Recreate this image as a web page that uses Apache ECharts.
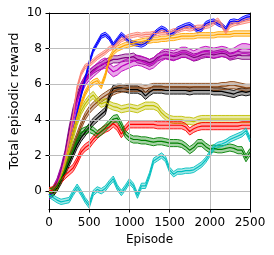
<!DOCTYPE html>
<html><head><meta charset="utf-8">
<script src="https://cdn.jsdelivr.net/npm/echarts@6/dist/echarts.min.js"></script>
<style>html,body{margin:0;padding:0;background:#fff}#c{width:274px;height:255px}</style>
</head><body><div id="c"></div>
<script>
// ---- data ----
const episodes = [0,50,100,150,200,250,300,350,400,450,500,550,600,650,700,750,800,850,900,950,1000,1050,1100,1150,1200,1250,1300,1350,1400,1450,1500,1550,1600,1650,1700,1750,1800,1850,1900,1950,2000,2050,2100,2150,2200,2250,2300,2350,2400,2450,2500];

const blue = [-0.2,-0.1,0.3,0.8,1.6,2.5,3.4,4.4,5.4,6.3, 7.2,7.9,8.3,8.7,8.8,8.6,8.2,8.5,8.8,8.6, 8.4,8.3,8.25,8.2,8.3,8.5,8.8,9.0,9.15,9.05, 8.8,8.9,9.1,9.2,9.3,9.35,9.2,9.0,9.1,9.4, 9.5,9.55,9.4,9.3,9.1,9.5,9.55,9.5,9.65,9.75, 9.8];
const salmon = [0.1,0.0,0.3,0.9,1.8,3.0,4.3,5.8,6.6,7.0, 7.1,7.3,7.5,7.65,7.8,8.0,8.1,8.3,8.5,8.6, 8.7,8.75,8.8,8.75,8.8,8.8,8.85,8.85,8.9,8.9, 8.9,9.0,9.0,9.1,9.15,9.1,9.15,9.2,9.2,9.25, 9.3,9.45,9.6,9.3,8.95,9.3,9.4,9.45,9.5,9.55, 9.6];
const orange = [-0.1,-0.1,0.2,0.8,1.6,2.5,3.4,4.2,4.9,5.5, 5.9,6.1,6.2,5.9,6.5,7.4,7.8,8.0,8.1,8.2, 8.25,8.3,8.35,8.4,8.45,8.45,8.5,8.5,8.55,8.55, 8.6,8.6,8.65,8.7,8.7,8.7,8.7,8.75,8.75,8.75, 8.75,8.75,8.8,8.8,8.8,8.8,8.85,8.85,8.85,8.85, 8.85];
const purple = [-0.2,0.0,0.5,1.2,2.1,3.4,4.5,5.3,5.9,6.3, 6.6,6.8,6.95,7.05,7.2,7.3,7.4,7.4,7.45,7.5, 7.5,7.55,7.4,7.35,7.3,7.2,7.3,7.5,7.6,7.65, 7.6,7.55,7.6,7.7,7.7,7.6,7.5,7.55,7.65,7.7, 7.7,7.65,7.7,7.75,7.7,7.55,7.6,7.65,7.6,7.6, 7.6];
const magenta = [-0.2,0.0,0.4,1.0,1.9,3.0,4.1,5.0,5.7,6.2, 6.5,6.7,6.9,7.1,7.2,6.9,6.7,6.8,7.0,7.1, 7.2,7.3,7.35,7.3,7.2,7.1,7.2,7.4,7.6,7.7, 7.65,7.6,7.7,7.8,7.8,7.7,7.6,7.7,7.8,7.85, 7.8,7.75,7.8,7.85,7.8,7.7,7.75,7.9,8.0,8.0, 7.95];
const black = [-0.1,-0.1,0.2,0.6,1.1,1.6,2.1,2.6,3.0,3.3, 3.6,3.9,4.1,4.3,4.5,5.3,5.75,5.8,5.8,5.75, 5.7,5.7,5.7,5.6,5.35,5.55,5.7,5.7,5.7,5.65, 5.65,5.65,5.65,5.65,5.65,5.6,5.65,5.65,5.65,5.65, 5.65,5.6,5.6,5.6,5.55,5.5,5.45,5.55,5.6,5.55, 5.6];
const brown = [-0.1,0.0,0.3,0.8,1.4,1.9,2.5,3.1,3.7,4.2, 4.55,4.8,5.0,5.2,5.35,5.5,5.6,5.7,5.75,5.8, 5.8,5.8,5.8,5.8,5.75,5.8,5.85,5.85,5.85,5.85, 5.85,5.85,5.85,5.85,5.85,5.85,5.85,5.85,5.85,5.85, 5.85,5.85,5.85,5.9,5.9,5.95,5.95,5.9,5.85,5.8, 5.8];
const olive = [-0.1,0.0,0.3,0.8,1.5,2.3,3.1,3.9,4.5,4.9, 5.2,5.4,5.1,4.9,5.0,4.85,4.75,4.7,4.6,4.65, 4.7,4.65,4.6,4.7,4.8,4.8,4.8,4.7,4.4,4.2, 4.05,4.0,4.0,4.0,3.95,3.95,3.9,4.0,4.05,4.05, 4.05,4.05,4.05,4.05,4.05,4.05,4.05,4.05,4.05,4.05, 4.05];
const red = [0.0,0.05,0.35,0.65,0.9,1.1,1.3,1.7,2.2,2.45, 2.6,2.9,3.15,3.35,3.5,3.6,3.8,3.6,3.2,3.5, 3.75,3.75,3.75,3.75,3.75,3.75,3.75,3.7,3.7,3.7, 3.7,3.7,3.7,3.7,3.6,3.35,3.5,3.6,3.65,3.65, 3.65,3.65,3.65,3.65,3.65,3.65,3.65,3.65,3.7,3.7, 3.7];
const green = [-0.1,0.0,0.3,0.7,1.2,1.8,2.3,2.9,3.3,3.4, 3.5,3.4,3.2,3.35,3.55,3.8,4.05,4.1,3.7,3.2, 3.0,2.9,2.9,2.85,2.85,2.8,2.75,2.8,2.8,2.75, 2.7,2.7,2.7,2.65,2.5,2.3,2.45,2.7,2.7,2.5, 2.35,2.4,2.35,2.35,2.4,2.45,2.4,2.3,2.3,1.85, 2.2];
const cyan = [-0.2,-0.35,-0.5,-0.6,-0.55,-0.5,-0.1,0.25,-0.1,-0.5, -0.8,-0.1,0.1,0.0,0.15,0.45,0.7,0.2,-0.1,0.2, 0.55,0.3,-0.25,0.3,0.3,0.9,1.7,1.85,2.0,1.8, 1.2,0.95,1.1,1.1,1.15,1.15,1.2,1.35,1.5,1.75, 2.1,2.45,2.6,2.65,2.75,2.9,3.0,3.1,3.2,3.4, 2.9];

// drawing order, band half widths and colours
const curveValues = [purple, magenta, blue, orange, salmon, black, brown, olive, red, green, cyan];
const bandHalfWidth = [0.2, 0.28, 0.12, 0.15, 0.12, 0.2, 0.2, 0.2, 0.2, 0.2, 0.15];
const curveColors = ['#800080','#bf00bf','#0000ff','#ffa500','#fa8072','#000000','#8b4513','#bfbf00','#ff0000','#008000','#00bfbf'];

const xTicks = [0, 500, 1000, 1500, 2000, 2500];
const yTicks = [0, 2, 4, 6, 8, 10];

// ---- chart ----
const FONT = 'DejaVu Sans';
const GRID = '#bdbdbd';
const series = [];
// grid lines at the tick values (drawn beneath the curves)
series.push({
  type: 'line', data: [[0, -1]], z: 1, silent: true, symbol: 'none',
  lineStyle: {opacity: 0},
  markLine: {silent: true, symbol: ['none', 'none'], label: {show: false}, animation: false,
    lineStyle: {color: GRID, type: 'solid', width: 1},
    data: yTicks.filter(v => v > -1 && v < 10).map(v => ({yAxis: v}))
      .concat(xTicks.filter(v => v > 0 && v < 2500).map(v => ({xAxis: v})))}
});
curveValues.forEach((vals, i) => {
  const hw = bandHalfWidth[i], col = curveColors[i];
  // shaded band (mean ± half width) drawn through the axis scales
  series.push({
    type: 'custom', silent: true, clip: true, z: 2,
    data: [[episodes[0], vals[0]]],
    encode: {x: 0, y: 1},
    renderItem: function (params, api) {
      const up = [], lo = [];
      for (let k = 0; k < episodes.length; k++) {
        up.push(api.coord([episodes[k], vals[k] + hw]));
        lo.push(api.coord([episodes[k], vals[k] - hw]));
      }
      const poly = up.concat(lo.slice().reverse());
      return {type: 'group', children: [
        {type: 'polygon', shape: {points: poly}, style: {fill: col, opacity: 0.35}},
        {type: 'polyline', shape: {points: up}, style: {stroke: col, lineWidth: 1, fill: null, opacity: 0.9}},
        {type: 'polyline', shape: {points: lo}, style: {stroke: col, lineWidth: 1, fill: null, opacity: 0.9}}
      ]};
    }
  });
  series.push({type: 'line', z: 2, data: vals.map((v, k) => [episodes[k], v]), symbol: 'none', silent: true,
    lineStyle: {color: col, width: 1.2}});
});

const frameAxis = {show: true, onZero: false, lineStyle: {color: '#000', width: 1}};
const chart = echarts.init(document.getElementById('c'), null, {renderer: 'canvas'});
chart.setOption({
  animation: false,
  backgroundColor: '#fff',
  grid: {left: 49, right: 24, top: 13, bottom: 46},
  graphic: [{
    type: 'text', x: 15, y: 101, rotation: Math.PI / 2, silent: true,
    style: {text: 'Total episodic reward', fontFamily: FONT, fontSize: 13, fill: '#000',
      textAlign: 'center', textVerticalAlign: 'middle'}
  }],
  xAxis: [{
    type: 'value', min: 0, max: 2500, interval: 500,
    name: 'Episode', nameLocation: 'middle', nameGap: 25,
    nameTextStyle: {fontFamily: FONT, fontSize: 12, color: '#000'},
    axisLine: frameAxis,
    axisTick: {show: true, length: 3.5, lineStyle: {color: '#000'}},
    axisLabel: {fontFamily: FONT, fontSize: 12, color: '#000', margin: 8, formatter: v => String(v)},
    splitLine: {show: false}
  }, {
    type: 'value', position: 'top', min: 0, max: 2500,
    axisLine: frameAxis, axisTick: {show: false}, axisLabel: {show: false}, splitLine: {show: false}
  }],
  yAxis: [{
    type: 'value', min: -1, max: 10,
    axisLine: frameAxis,
    axisTick: {show: true, length: 3.5, lineStyle: {color: '#000'}, customValues: yTicks},
    axisLabel: {fontFamily: FONT, fontSize: 12, color: '#000', margin: 7, customValues: yTicks, formatter: v => String(v)},
    splitLine: {show: false}
  }, {
    type: 'value', position: 'right', min: -1, max: 10,
    axisLine: frameAxis, axisTick: {show: false}, axisLabel: {show: false}, splitLine: {show: false}
  }],
  series: series
});
</script></body></html>
